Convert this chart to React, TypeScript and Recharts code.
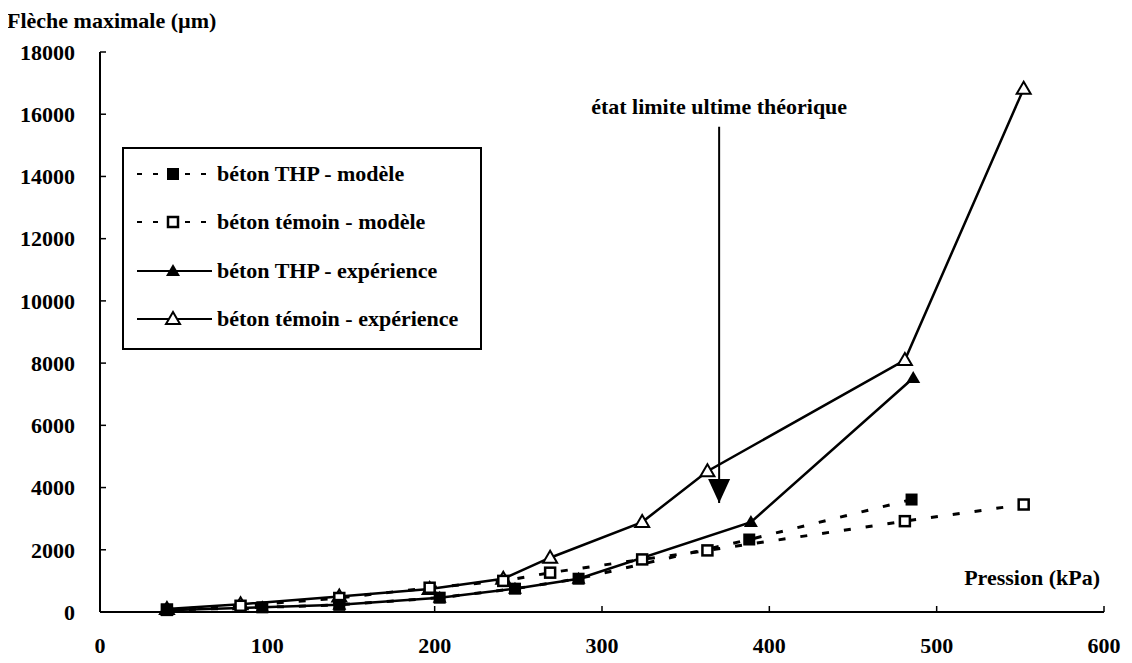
import {
  LineChart,
  Line,
  XAxis,
  YAxis,
  Legend,
  ReferenceLine,
  ReferenceDot,
} from "recharts";

// pressure (kPa) / max deflection (µm)
const thpModelP = [40, 97, 143, 203, 248, 286, 388, 485];
const thpModelF = [60, 150, 230, 460, 750, 1070, 2330, 3615];

const temModelP = [40, 84, 143, 197, 241, 269, 324, 363, 481, 552];
const temModelF = [80, 200, 450, 780, 1000, 1264, 1690, 1980, 2920, 3455];

const thpExpP = [40, 97, 143, 203, 248, 286, 389, 486];
const thpExpF = [60, 150, 230, 460, 750, 1070, 2890, 7520];

const temExpP = [40, 84, 143, 197, 241, 269, 324, 363, 481, 552];
const temExpF = [100, 250, 500, 740, 1070, 1745, 2890, 4525, 8100, 16820];

const xTicks = [0, 100, 200, 300, 400, 500, 600];
const yTicks = [0, 2000, 4000, 6000, 8000, 10000, 12000, 14000, 16000, 18000];

// theoretical ultimate limit state arrow
const limitP = 370;
const limitTop = 15600;
const limitTip = 3500;

const FONT = '"Liberation Serif", "Times New Roman", serif';
const FS = 22;

type MarkerKind = "sq" | "osq" | "tri" | "otri";

const zip = (p: number[], f: number[]) => p.map((x, i) => ({ p: x, f: f[i] }));

const Marker = ({ kind, cx, cy }: { kind: MarkerKind; cx: number; cy: number }) => {
  if (kind === "sq")
    return <rect x={cx - 6} y={cy - 6} width={12} height={12} fill="#000" />;
  if (kind === "osq")
    return (
      <rect x={cx - 5} y={cy - 5} width={10} height={10} fill="#fff" stroke="#000" strokeWidth={2.5} />
    );
  const pts = `${cx},${cy - 7} ${cx - 7},${cy + 5} ${cx + 7},${cy + 5}`;
  if (kind === "tri") return <polygon points={pts} fill="#000" />;
  return <polygon points={pts} fill="#fff" stroke="#000" strokeWidth={2} />;
};

const dotOf = (kind: MarkerKind) => (props: any) =>
  <Marker key={props.key ?? props.index} kind={kind} cx={props.cx} cy={props.cy} />;

const series = [
  { name: "béton THP - modèle", kind: "sq" as MarkerKind, dashed: true },
  { name: "béton témoin - modèle", kind: "osq" as MarkerKind, dashed: true },
  { name: "béton THP - expérience", kind: "tri" as MarkerKind, dashed: false },
  { name: "béton témoin - expérience", kind: "otri" as MarkerKind, dashed: false },
];

const LegendBox = () => (
  <div
    style={{
      width: 360,
      height: 203,
      boxSizing: "border-box",
      border: "2px solid #000",
      background: "#fff",
      paddingTop: 1,
      fontFamily: FONT,
      fontWeight: "bold",
      fontSize: FS,
    }}
  >
    {series.map((s) => (
      <div key={s.name} style={{ height: 48.3, display: "flex", alignItems: "center" }}>
        <svg width={80} height={20} style={{ marginLeft: 13, flex: "none" }}>
          <line
            x1={0}
            x2={75}
            y1={10}
            y2={10}
            stroke="#000"
            strokeWidth={2}
            strokeDasharray={s.dashed ? "5 11" : undefined}
          />
          <Marker kind={s.kind} cx={36} cy={10} />
        </svg>
        <span style={{ whiteSpace: "nowrap" }}>{s.name}</span>
      </div>
    ))}
  </div>
);

export default function App() {
  const tickStyle = { fontFamily: FONT, fontWeight: "bold", fontSize: FS, fill: "#000" };

  return (
    <LineChart
      width={1116}
      height={655}
      margin={{ top: 44, right: 20, left: 12, bottom: 10 }}
      style={{ fontFamily: FONT }}
    >
      <XAxis
        type="number"
        dataKey="p"
        domain={[0, 600]}
        ticks={xTicks}
        height={41}
        tickSize={-6}
        tickMargin={31}
        tick={tickStyle}
        axisLine={{ stroke: "#000", strokeWidth: 2 }}
        tickLine={{ stroke: "#000", strokeWidth: 1.5 }}
        label={{
          content: ({ viewBox }: any) => (
            <text
              x={viewBox.x + viewBox.width - 4}
              y={viewBox.y - 27}
              textAnchor="end"
              fontFamily={FONT}
              fontWeight="bold"
              fontSize={FS}
              fill="#000"
            >
              Pression (kPa)
            </text>
          ),
        }}
      />
      <YAxis
        type="number"
        dataKey="f"
        domain={[0, 18000]}
        ticks={yTicks}
        width={80}
        tickSize={-6}
        tickMargin={31}
        tick={tickStyle}
        axisLine={{ stroke: "#000", strokeWidth: 2 }}
        tickLine={{ stroke: "#000", strokeWidth: 1.5 }}
        label={{
          content: ({ viewBox }: any) => (
            <text
              x={viewBox.x - 13}
              y={viewBox.y - 24}
              fontFamily={FONT}
              fontWeight="bold"
              fontSize={FS}
              fill="#000"
            >
              Flèche maximale (µm)
            </text>
          ),
        }}
      />

      <Legend
        layout="vertical"
        align="center"
        verticalAlign="middle"
        content={() => <LegendBox />}
        wrapperStyle={{ left: 114, top: 139, width: 360, height: 203 }}
      />

      <ReferenceLine
        segment={[
          { x: limitP, y: limitTop },
          { x: limitP, y: limitTip },
        ]}
        stroke="#000"
        strokeWidth={2}
      />
      <ReferenceDot
        x={limitP}
        y={limitTop}
        shape={(p: any) => (
          <text
            x={p.cx}
            y={p.cy - 13}
            textAnchor="middle"
            fontFamily={FONT}
            fontWeight="bold"
            fontSize={FS}
            fill="#000"
          >
            état limite ultime théorique
          </text>
        )}
      />
      <ReferenceDot
        x={limitP}
        y={limitTip}
        shape={(p: any) => (
          <polygon
            points={`${p.cx},${p.cy} ${p.cx - 11},${p.cy - 24} ${p.cx + 11},${p.cy - 24}`}
            fill="#000"
          />
        )}
      />

      <Line
        data={zip(temExpP, temExpF)}
        dataKey="f"
        name="béton témoin - expérience"
        stroke="#000"
        strokeWidth={2.5}
        dot={dotOf("otri")}
        isAnimationActive={false}
      />
      <Line
        data={zip(thpExpP, thpExpF)}
        dataKey="f"
        name="béton THP - expérience"
        stroke="#000"
        strokeWidth={2.5}
        dot={dotOf("tri")}
        isAnimationActive={false}
      />
      <Line
        data={zip(temModelP, temModelF)}
        dataKey="f"
        name="béton témoin - modèle"
        stroke="#000"
        strokeWidth={3}
        strokeDasharray="7 15"
        dot={dotOf("osq")}
        isAnimationActive={false}
      />
      <Line
        data={zip(thpModelP, thpModelF)}
        dataKey="f"
        name="béton THP - modèle"
        stroke="#000"
        strokeWidth={3}
        strokeDasharray="7 15"
        dot={dotOf("sq")}
        isAnimationActive={false}
      />
    </LineChart>
  );
}
